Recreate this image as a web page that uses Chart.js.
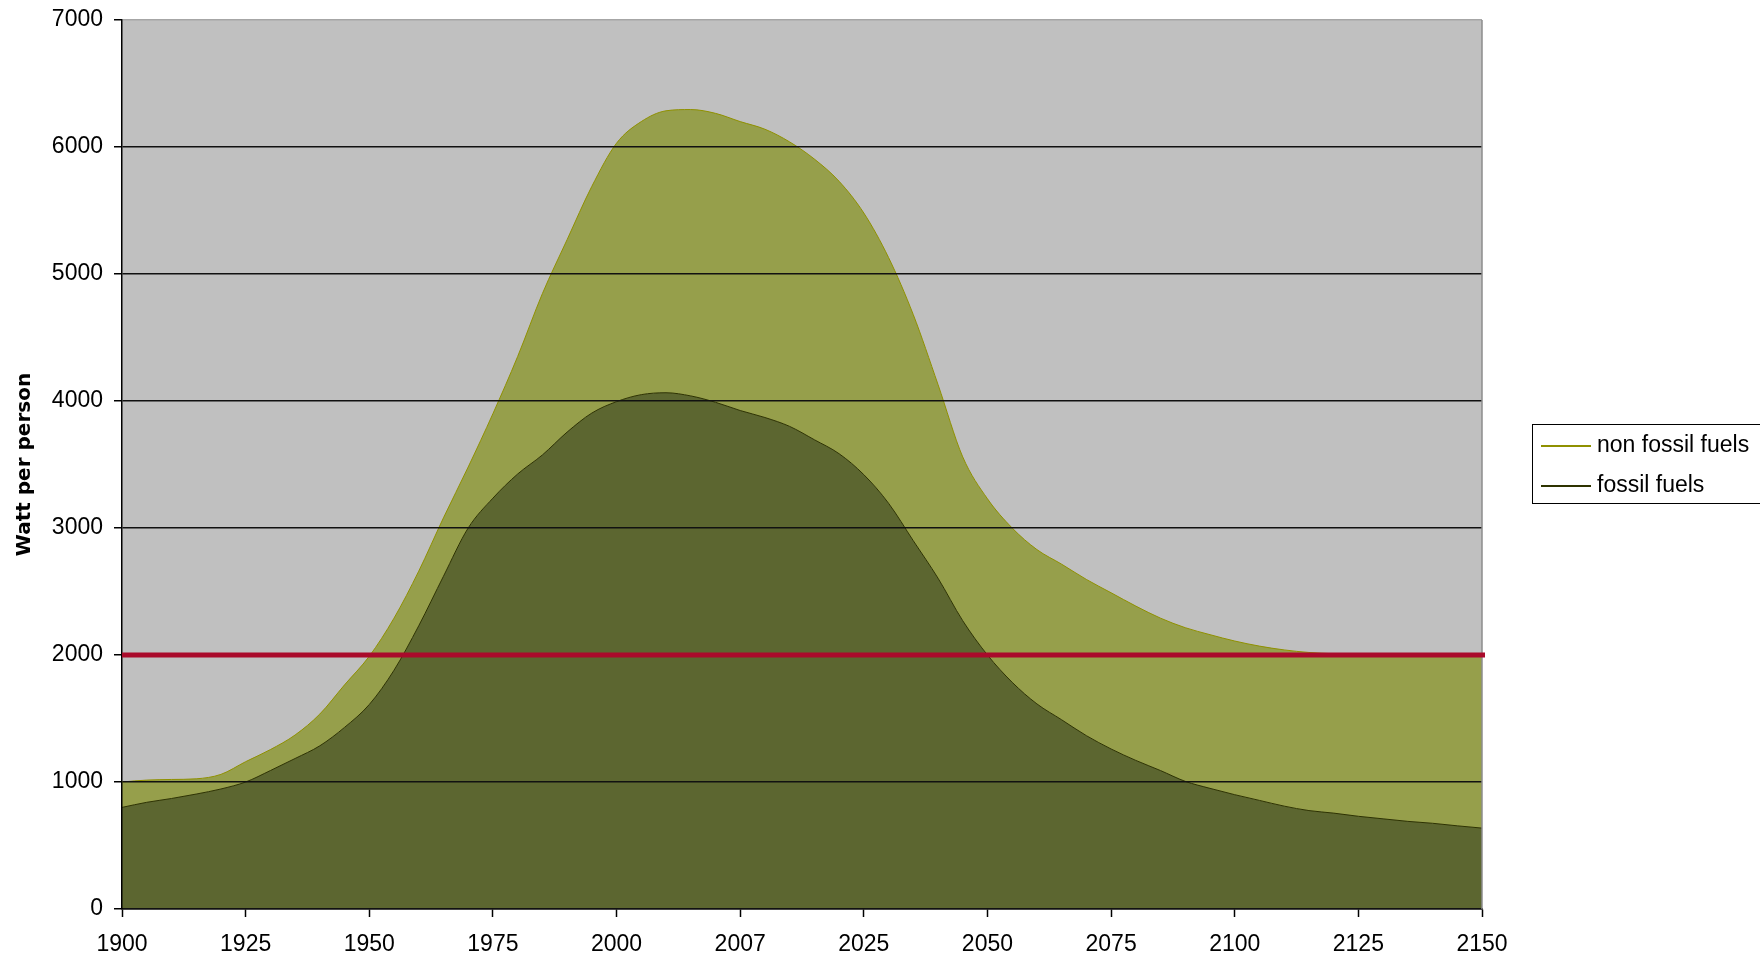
<!DOCTYPE html>
<html lang="en">
<head>
    <meta charset="UTF-8">
    <title>Watt per person</title>
    <script src="https://cdn.jsdelivr.net/npm/chart.js"></script>
    <style>
        html, body {
            margin: 0;
            padding: 0;
            background: #fff;
            overflow: hidden;
        }

        #chart-box {
            position: relative;
            width: 1760px;
            height: 958px;
        }
    </style>
</head>
<body>
    <div id="chart-box">
        <canvas id="energyChart"></canvas>
    </div>

    <script>
        // categories of the x axis (only some of them get a visible label)
        var years = ['1900', '1905', '1910', '1915', '1920', '1925', '1930', '1935', '1940', '1945',
                     '1950', '1955', '1960', '1965', '1970', '1975', '1980', '1985', '1990', '1995',
                     '2000', '2001', '2003', '2004', '2006', '2007', '2011', '2014', '2018', '2021',
                     '2025', '2030', '2035', '2040', '2045', '2050', '2055', '2060', '2065', '2070',
                     '2075', '2080', '2085', '2090', '2095', '2100', '2105', '2110', '2115', '2120',
                     '2125', '2130', '2135', '2140', '2145', '2150'];
        var tickLabels = ['1900', '1925', '1950', '1975', '2000', '2007', '2025', '2050', '2075', '2100', '2125', '2150'];

        // Watt per person (stacked: fossil at the bottom, non fossil on top)
        var fossilFuels = [800, 840, 870, 905, 945, 1000, 1090, 1185, 1285, 1430,
                           1610, 1880, 2230, 2620, 3000, 3235, 3425, 3575, 3755, 3905,
                           3995, 4050, 4065, 4040, 3990, 3925, 3870, 3800, 3695, 3585,
                           3420, 3195, 2900, 2605, 2270, 2000, 1785, 1615, 1490, 1365,
                           1260, 1170, 1090, 1005, 950, 900, 855, 810, 775, 755,
                           730, 710, 690, 675, 655, 637];
        var nonFossilFuels = [200, 175, 150, 120, 115, 160, 165, 185, 250, 335,
                              380, 410, 430, 460, 480, 665, 925, 1270, 1515, 1785,
                              2035, 2150, 2220, 2255, 2275, 2275, 2270, 2240, 2210, 2145,
                              2060, 1935, 1780, 1525, 1290, 1230, 1215, 1215, 1225, 1230,
                              1230, 1215, 1200, 1210, 1210, 1210, 1215, 1230, 1245, 1255,
                              1275, 1290, 1310, 1325, 1345, 1363];

        // the 2000 W line
        var targetLevel = 2000;

        Chart.defaults.font.family = '"Liberation Sans", Arial, sans-serif';
        Chart.defaults.color = '#000';

        // grey plot background
        var plotBackground = {
            id: 'plotBackground',
            beforeDraw: function (chart) {
                var a = chart.chartArea;
                var ctx = chart.ctx;
                ctx.save();
                ctx.fillStyle = '#c0c0c0';
                ctx.fillRect(a.left, a.top, a.right - a.left, a.bottom - a.top);
                ctx.restore();
            }
        };

        // right border, red 2000 line and the boxed legend
        var overlay = {
            id: 'overlay',
            afterDraw: function (chart) {
                var a = chart.chartArea;
                var ctx = chart.ctx;
                ctx.save();

                ctx.strokeStyle = '#8c8c8c';
                ctx.lineWidth = 1.5;
                ctx.beginPath();
                ctx.moveTo(a.right, a.top);
                ctx.lineTo(a.right, a.bottom);
                ctx.stroke();

                var y = chart.scales.y.getPixelForValue(targetLevel);
                ctx.strokeStyle = '#aa0a2b';
                ctx.lineWidth = 5;
                ctx.beginPath();
                ctx.moveTo(a.left, y);
                ctx.lineTo(a.right + 3, y);
                ctx.stroke();

                // legend, listed top series first
                var boxX = 1532, boxY = 424;
                ctx.strokeStyle = '#000';
                ctx.lineWidth = 1;
                ctx.strokeRect(boxX + 0.5, boxY + 0.5, 260, 79);
                ctx.font = '23px "Liberation Sans", Arial, sans-serif';
                ctx.textBaseline = 'middle';
                ctx.fillStyle = '#000';
                var sets = chart.data.datasets.slice().reverse();
                sets.forEach(function (ds, i) {
                    var rowY = boxY + 22 + i * 40;
                    ctx.strokeStyle = ds.borderColor;
                    ctx.lineWidth = 2;
                    ctx.beginPath();
                    ctx.moveTo(boxX + 9, rowY);
                    ctx.lineTo(boxX + 59, rowY);
                    ctx.stroke();
                    ctx.fillText(ds.label, boxX + 65, rowY);
                });

                ctx.restore();
            }
        };

        var ctx = document.getElementById('energyChart').getContext('2d');
        var energyChart = new Chart(ctx, {
            type: 'line',
            data: {
                labels: years,
                datasets: [{
                    label: 'fossil fuels',
                    data: fossilFuels,
                    borderColor: '#2e3300',
                    borderWidth: 1,
                    backgroundColor: '#5c6630',
                    fill: 'origin',
                    pointRadius: 0,
                    cubicInterpolationMode: 'monotone'
                }, {
                    label: 'non fossil fuels',
                    data: nonFossilFuels,
                    borderColor: '#8f9000',
                    borderWidth: 1,
                    backgroundColor: '#969f4b',
                    fill: '-1',
                    pointRadius: 0,
                    cubicInterpolationMode: 'monotone'
                }]
            },
            options: {
                responsive: true,
                maintainAspectRatio: false,
                animation: false,
                events: [],
                layout: {
                    padding: { top: 20, right: 278, bottom: 0, left: 0 }
                },
                plugins: {
                    legend: { display: false },
                    tooltip: { enabled: false }
                },
                scales: {
                    x: {
                        grid: {
                            z: 1,
                            drawOnChartArea: false,
                            tickLength: 8,
                            tickWidth: 1.5,
                            tickColor: function (c) {
                                return c.tick && c.tick.label ? '#000' : 'rgba(0,0,0,0)';
                            }
                        },
                        border: { z: 1, color: '#000', width: 1.5 },
                        ticks: {
                            autoSkip: false,
                            maxRotation: 0,
                            padding: 14,
                            font: { size: 23 },
                            callback: function (value, index) {
                                var label = years[index];
                                return tickLabels.indexOf(label) >= 0 ? label : '';
                            }
                        },
                        afterFit: function (scale) {
                            scale.height = 49;
                        }
                    },
                    y: {
                        stacked: true,
                        min: 0,
                        max: 7000,
                        grid: {
                            z: 1,
                            lineWidth: 1.5,
                            tickLength: 8,
                            tickColor: '#000',
                            color: function (c) {
                                return c.tick && c.tick.value === 7000 ? '#a6a6a6' : '#111';
                            }
                        },
                        border: { z: 1, color: '#000', width: 1.5 },
                        ticks: {
                            stepSize: 1000,
                            padding: 11,
                            font: { size: 23 },
                            callback: function (value) {
                                return String(value);
                            }
                        },
                        title: {
                            display: true,
                            text: 'Watt per person',
                            font: { family: '"DejaVu Sans", sans-serif', size: 20, weight: 'bold' },
                            padding: { top: 13, bottom: 0 }
                        },
                        afterFit: function (scale) {
                            scale.width = 122;
                            scale.paddingTop = 0;
                            scale.paddingBottom = 0;
                        }
                    }
                }
            },
            plugins: [plotBackground, overlay]
        });
    </script>
</body>
</html>
